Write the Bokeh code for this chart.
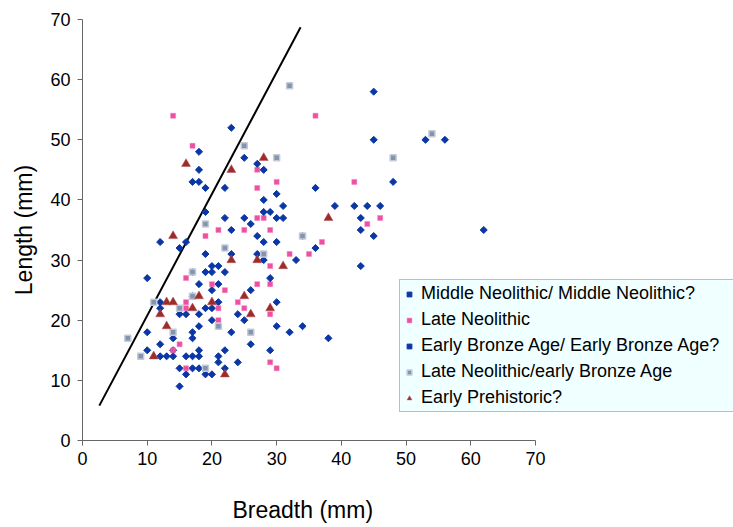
from bokeh.plotting import figure
from bokeh.models import Range1d, FixedTicker, Legend, LegendItem, Title
from bokeh.embed import file_html
from bokeh.resources import INLINE
import math

# ---- data (Breadth, Length in mm) ----
mn_breadth = [23, 18, 18, 17, 18, 19, 22, 19, 22, 23, 12, 16, 15, 19, 23, 20, 21, 17, 19, 20,
              22, 10, 18, 21, 20, 17, 12, 21, 12, 19, 20, 15, 16, 18, 20, 18, 10, 17, 23, 14,
              17, 12, 14, 10, 18, 22, 12, 13, 14, 16, 17, 18, 21, 21, 15, 17, 18, 22, 16, 19,
              20, 15]
mn_length = [52, 48, 45, 43, 43, 42, 42, 38, 37, 35, 33, 33, 32, 31, 31, 29, 29, 28, 28, 28,
             28, 27, 26, 26, 25, 24, 23, 23, 22, 22, 22, 21, 21, 21, 20, 19, 18, 18, 18, 17,
             17, 16, 15, 15, 15, 15, 14, 14, 14, 14, 14, 14, 14, 13, 12, 12, 12, 12, 11, 11,
             11, 9]

ln_breadth = [14, 17, 36, 27, 30, 42, 27, 27, 28, 46, 44, 25, 29, 21, 19, 37, 32, 35, 29, 16,
              20, 27, 29, 22, 16, 24, 16, 21, 25, 29, 21, 15, 14, 16, 29, 30]
ln_length = [54, 49, 54, 45, 43, 43, 42, 37, 37, 37, 36, 35, 35, 35, 34, 33, 31, 31, 29, 27,
             26, 26, 26, 25, 23, 23, 22, 22, 22, 21, 20, 16, 15, 12, 13, 12]

eba_breadth = [45, 45, 25, 27, 28, 48, 36, 30, 28, 31, 39, 42, 44, 46, 28, 29, 25, 30, 31, 43,
               26, 43, 27, 45, 34, 28, 30, 36, 27, 28, 33, 43, 29, 26, 30, 24, 25, 30, 32, 34,
               38, 26, 29, 53, 56, 62, 24]
eba_length = [58, 50, 47, 46, 45, 43, 42, 41, 40, 39, 39, 39, 39, 39, 38, 38, 37, 37, 37, 37,
              36, 35, 34, 34, 34, 33, 33, 32, 31, 30, 30, 29, 27, 25, 23, 21, 20, 19, 18, 19,
              17, 16, 15, 50, 50, 35, 13]

lneba_breadth = [32, 25, 30, 48, 54, 19, 22, 17, 34, 28, 17, 11, 15, 21, 14, 7, 26, 9, 19]
lneba_length = [59, 49, 47, 47, 51, 36, 32, 28, 34, 31, 24, 23, 22, 19, 18, 17, 18, 14, 12]

ep_breadth = [16, 23, 28, 14, 23, 13, 14, 20, 12, 17, 13, 11, 22, 18, 25, 38, 27, 31, 29, 26]
ep_length = [46, 45, 47, 34, 30, 23, 23, 23, 21, 22, 19, 14, 11, 24, 24, 37, 30, 29, 22, 21]

line_breadth = [2.6, 33.7]
line_length = [5.8, 68.7]

x_ticks = [0, 10, 20, 30, 40, 50, 60, 70]
y_ticks = [0, 10, 20, 30, 40, 50, 60, 70]

series_labels = ["Middle Neolithic/ Middle Neolithic?", "Late Neolithic",
                 "Early Bronze Age/ Early Bronze Age?", "Late Neolithic/early Bronze Age",
                 "Early Prehistoric?"]

FONT = "Liberation Sans"

# frame runs to the right edge so the legend can overflow the axis area, as in the reference;
# the axis itself is bounded to 0..70
X_END = 70 * (733 - 82) / (535 - 82)

p = figure(width=733, height=527, output_backend="svg", toolbar_location=None,
           x_range=Range1d(0, X_END), y_range=Range1d(0, 70),
           min_border_left=82, min_border_right=0, min_border_top=19, min_border_bottom=87)
p.background_fill_color = "white"
p.border_fill_color = "white"
p.outline_line_color = None
p.xgrid.visible = False
p.ygrid.visible = False

p.xaxis.ticker = FixedTicker(ticks=x_ticks)
p.yaxis.ticker = FixedTicker(ticks=y_ticks)
p.xaxis.bounds = (0, 70)
for ax in (p.xaxis[0], p.yaxis[0]):
    ax.axis_line_color = "#666666"
    ax.major_tick_line_color = "#666666"
    ax.minor_tick_line_color = None
    ax.major_tick_in = 0
    ax.major_tick_out = 5
    ax.major_label_text_font = FONT
    ax.major_label_text_font_size = "18px"
    ax.major_label_text_color = "black"
    ax.axis_label_text_font = FONT
    ax.axis_label_text_font_size = "23px"
    ax.axis_label_text_font_style = "normal"
    ax.axis_label_text_color = "black"
p.yaxis.axis_label = "Length (mm)"
p.xaxis.major_label_standoff = 6
p.yaxis.major_label_standoff = 7
p.yaxis.axis_label_standoff = 10

# blank spacer title to push the x title down
spacer = Title(text=" ", standoff=26, text_font_size="1px", text_color="white")
p.add_layout(spacer, "below")

# x-axis title placed under the 0..70 span
xtitle = Title(text="Breadth (mm)", align="left", offset=150, standoff=0,
               vertical_align="top",
               text_font=FONT, text_font_size="23px", text_font_style="normal",
               text_color="black")
p.add_layout(xtitle, "below")

p.line(line_breadth, line_length, line_color="black", line_width=2)

blue = "#0a36a6"
r1 = p.scatter(mn_breadth, mn_length, marker="square", angle=math.pi / 4, size=5,
               fill_color=blue, line_color=blue, line_width=1)
r2 = p.scatter(ln_breadth, ln_length, marker="square", size=5,
               fill_color="#ee4fa3", line_color="#f07ab8", line_width=0.5)
r3 = p.scatter(eba_breadth, eba_length, marker="square", angle=math.pi / 4, size=5,
               fill_color=blue, line_color=blue, line_width=1)
r4 = p.scatter(lneba_breadth, lneba_length, marker="square", size=6,
               fill_color="#8593ad", line_color="#c3cbd9", line_width=1.5)
r5 = p.scatter(ep_breadth, ep_length, marker="triangle", size=9,
               fill_color="#9c2c2c", line_color="#b05050", line_width=0.5)

legend = Legend(items=[LegendItem(label=lab, renderers=[r]) for lab, r in
                       zip(series_labels, [r1, r2, r3, r4, r5])],
                location=(317, 28))
legend.background_fill_color = "#f0ffff"
legend.background_fill_alpha = 1.0
legend.border_line_color = "#808080"
legend.border_line_width = 1
legend.label_text_font = FONT
legend.label_text_font_size = "18px"
legend.label_text_color = "black"
legend.glyph_width = 12
legend.glyph_height = 20
legend.label_height = 20
legend.label_width = 330
legend.label_standoff = 6
legend.spacing = 5
legend.padding = 3
legend.margin = 0
p.add_layout(legend, "center")

open("out.html", "w").write(file_html(p, INLINE))
